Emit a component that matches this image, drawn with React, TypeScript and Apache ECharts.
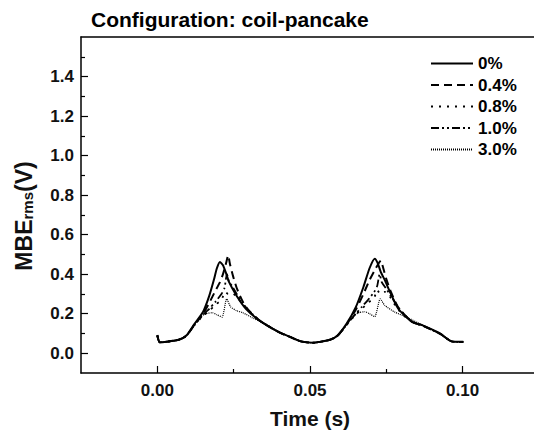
import React, { useEffect, useRef } from "react";
import * as echarts from "echarts";

const titleText = "Configuration: coil-pancake";
const yTitleMain = "MBE";
const yTitleSub = "rms";
const yTitleUnit = "(V)";
const xTitle = "Time (s)";
const seriesNames = ["0%", "0.4%", "0.8%", "1.0%", "3.0%"];
const xMajorTicks = [0, 0.05, 0.1];
const xMinorTicks = [0.025, 0.075];
const yMajorTicks = [0, 0.2, 0.4, 0.6, 0.8, 1.0, 1.2, 1.4];
const yMinorTicks = [0.1, 0.3, 0.5, 0.7, 0.9, 1.1, 1.3, 1.5];

const s0: [number, number][] = [
  [0, 0.092], [0.0008, 0.055], [0.003, 0.058], [0.007, 0.068], [0.0095, 0.09], [0.012, 0.145],
  [0.015, 0.21], [0.017, 0.29], [0.0185, 0.37], [0.0195, 0.43], [0.0205, 0.462], [0.0215, 0.445],
  [0.0225, 0.405], [0.0235, 0.36], [0.026, 0.29], [0.029, 0.225], [0.0335, 0.165], [0.04, 0.105],
  [0.0435, 0.083], [0.047, 0.06], [0.051, 0.053], [0.0565, 0.068], [0.059, 0.09], [0.062, 0.15],
  [0.065, 0.233], [0.0675, 0.335], [0.0695, 0.43], [0.0712, 0.478], [0.0722, 0.455], [0.0732, 0.41],
  [0.0745, 0.37], [0.0762, 0.31], [0.0789, 0.225], [0.0833, 0.16], [0.0871, 0.14], [0.0926, 0.1],
  [0.0964, 0.06], [0.1002, 0.058],
];

const s04: [number, number][] = [
  [0, 0.09], [0.0008, 0.055], [0.003, 0.058], [0.007, 0.068], [0.0095, 0.088], [0.012, 0.14],
  [0.015, 0.2], [0.017, 0.255], [0.019, 0.315], [0.0205, 0.36], [0.0215, 0.4], [0.0225, 0.455],
  [0.0232, 0.495], [0.0238, 0.45], [0.0248, 0.39], [0.026, 0.33], [0.028, 0.26], [0.03, 0.215],
  [0.0335, 0.165], [0.04, 0.105], [0.0435, 0.082], [0.047, 0.06], [0.051, 0.053], [0.0565, 0.068],
  [0.059, 0.088], [0.062, 0.145], [0.065, 0.22], [0.0675, 0.3], [0.0695, 0.37], [0.0712, 0.42],
  [0.0725, 0.455], [0.0732, 0.468], [0.074, 0.43], [0.075, 0.375], [0.0765, 0.31], [0.079, 0.23],
  [0.0833, 0.16], [0.0871, 0.138], [0.0926, 0.098], [0.0964, 0.06], [0.1002, 0.057],
];

const s08: [number, number][] = [
  [0, 0.09], [0.0008, 0.055], [0.003, 0.058], [0.007, 0.068], [0.0095, 0.088], [0.012, 0.14],
  [0.015, 0.19], [0.017, 0.215], [0.019, 0.245], [0.021, 0.27], [0.0222, 0.31], [0.0232, 0.3],
  [0.0245, 0.305], [0.026, 0.285], [0.028, 0.25], [0.03, 0.215], [0.0335, 0.165], [0.04, 0.105],
  [0.0435, 0.082], [0.047, 0.06], [0.051, 0.053], [0.0565, 0.068], [0.059, 0.088], [0.062, 0.145],
  [0.065, 0.195], [0.067, 0.225], [0.069, 0.255], [0.071, 0.28], [0.072, 0.32], [0.073, 0.3],
  [0.0745, 0.31], [0.076, 0.29], [0.078, 0.24], [0.08, 0.2], [0.0833, 0.16], [0.0871, 0.138],
  [0.0926, 0.098], [0.0964, 0.06], [0.1002, 0.057],
];

const s10: [number, number][] = [
  [0, 0.09], [0.0008, 0.055], [0.003, 0.058], [0.007, 0.068], [0.0095, 0.088], [0.012, 0.14],
  [0.015, 0.195], [0.017, 0.225], [0.019, 0.26], [0.021, 0.3], [0.022, 0.33], [0.0228, 0.4],
  [0.0235, 0.36], [0.0245, 0.34], [0.026, 0.3], [0.028, 0.25], [0.03, 0.215], [0.0335, 0.165],
  [0.04, 0.105], [0.0435, 0.082], [0.047, 0.06], [0.051, 0.053], [0.0565, 0.068], [0.059, 0.088],
  [0.062, 0.145], [0.065, 0.2], [0.067, 0.235], [0.069, 0.27], [0.071, 0.31], [0.072, 0.34],
  [0.0728, 0.4], [0.0735, 0.36], [0.0748, 0.33], [0.0765, 0.29], [0.079, 0.23], [0.0833, 0.16],
  [0.0871, 0.138], [0.0926, 0.098], [0.0964, 0.06], [0.1002, 0.057],
];

const s30: [number, number][] = [
  [0, 0.09], [0.0008, 0.055], [0.003, 0.058], [0.007, 0.068], [0.0095, 0.088], [0.012, 0.14],
  [0.014, 0.185], [0.016, 0.2], [0.018, 0.205], [0.0195, 0.195], [0.0212, 0.183], [0.0227, 0.275],
  [0.024, 0.235], [0.026, 0.215], [0.028, 0.205], [0.031, 0.18], [0.0335, 0.162], [0.04, 0.105],
  [0.0435, 0.082], [0.047, 0.06], [0.051, 0.053], [0.0565, 0.068], [0.059, 0.088], [0.062, 0.145],
  [0.064, 0.185], [0.066, 0.205], [0.068, 0.21], [0.0695, 0.2], [0.0712, 0.185], [0.073, 0.275],
  [0.0745, 0.242], [0.0778, 0.208], [0.0816, 0.183], [0.0871, 0.14], [0.0926, 0.098],
  [0.0964, 0.06], [0.1002, 0.057],
];

const seriesData = [s0, s04, s08, s10, s30];
const dashes: any[] = ["solid", [8, 5], [2, 6], [8, 3, 2, 3, 2, 3], [1, 1]];
const widths = [2, 2, 1.8, 1.8, 1.2];

const FONT = "Liberation Sans, Arial, sans-serif";

export default function App() {
  const ref = useRef<HTMLDivElement>(null);
  useEffect(() => {
    if (!ref.current) return;
    const chart = echarts.init(ref.current, undefined, { renderer: "svg" });
    const axisLine = { show: true, onZero: false, lineStyle: { color: "#000", width: 1.5 } };
    const noLine = { show: false, onZero: false };
    const xCommon = { type: "value", min: -0.025, max: 0.125, gridIndex: 0, splitLine: { show: false } };
    const yCommon = { type: "value", min: -0.1, max: 1.6, gridIndex: 0, splitLine: { show: false } };
    chart.setOption({
      animation: false,
      backgroundColor: "#fff",
      textStyle: { fontFamily: FONT },
      title: {
        text: titleText,
        left: 91,
        top: 9,
        padding: 0,
        textStyle: { fontFamily: FONT, fontWeight: "bold", fontSize: 21, color: "#000" },
      },
      legend: {
        orient: "vertical",
        left: 430,
        top: 55,
        itemWidth: 42,
        itemHeight: 12,
        itemGap: 4.5,
        padding: 0,
        data: seriesNames,
        itemStyle: { opacity: 0 },
        textStyle: { fontFamily: FONT, fontWeight: "bold", fontSize: 17, color: "#000", lineHeight: 16 },
      },
      graphic: [
        {
          type: "text",
          x: 22,
          y: 216,
          rotation: Math.PI / 2,
          style: {
            text: `{a|${yTitleMain}}{b|${yTitleSub}}{a|${yTitleUnit}}`,
            align: "center",
            verticalAlign: "middle",
            rich: {
              a: { fontFamily: FONT, fontWeight: "bold", fontSize: 23, fill: "#111", lineHeight: 26, verticalAlign: "bottom" },
              b: { fontFamily: FONT, fontWeight: "bold", fontSize: 15, fill: "#111", lineHeight: 26, verticalAlign: "bottom", padding: [7, 0, 0, 0] },
            },
          },
        },
      ],
      grid: { left: 81, top: 37, right: 1, bottom: 57, containLabel: false },
      xAxis: [
        {
          ...xCommon,
          position: "bottom",
          axisLine,
          axisTick: { show: true, inside: true, length: 7, customValues: xMajorTicks, lineStyle: { color: "#000", width: 1.2 } },
          axisLabel: {
            show: true,
            customValues: xMajorTicks,
            formatter: (v: number) => v.toFixed(2),
            fontFamily: FONT,
            fontWeight: "bold",
            fontSize: 17,
            color: "#111",
            margin: 9,
          },
          name: xTitle,
          nameLocation: "middle",
          nameGap: 35,
          nameTextStyle: { fontFamily: FONT, fontWeight: "bold", fontSize: 21, color: "#111" },
        },
        {
          ...xCommon,
          position: "bottom",
          axisLine: noLine,
          axisTick: { show: true, inside: true, length: 4, customValues: xMinorTicks, lineStyle: { color: "#000", width: 1.2 } },
          axisLabel: { show: false },
        },
        {
          ...xCommon,
          position: "top",
          axisLine,
          axisTick: { show: false },
          axisLabel: { show: false },
        },
      ],
      yAxis: [
        {
          ...yCommon,
          position: "left",
          axisLine,
          axisTick: { show: true, inside: true, length: 7, customValues: yMajorTicks, lineStyle: { color: "#000", width: 1.2 } },
          axisLabel: {
            show: true,
            customValues: yMajorTicks,
            formatter: (v: number) => v.toFixed(1),
            fontFamily: FONT,
            fontWeight: "bold",
            fontSize: 17,
            color: "#111",
            margin: 7,
          },
        },
        {
          ...yCommon,
          position: "left",
          axisLine: noLine,
          axisTick: { show: true, inside: true, length: 4, customValues: yMinorTicks, lineStyle: { color: "#000", width: 1.2 } },
          axisLabel: { show: false },
        },
      ],
      series: seriesData.map((d, i) => ({
        name: seriesNames[i],
        type: "line",
        xAxisIndex: 0,
        yAxisIndex: 0,
        data: d,
        symbol: "none",
        showSymbol: false,
        smooth: 0.2,
        lineStyle: { color: "#000", width: widths[i], type: dashes[i] },
        itemStyle: { color: "#000" },
      })),
    });
    return () => chart.dispose();
  }, []);
  return (
    <div style={{ position: "fixed", left: 0, top: 0, width: 534, height: 434, overflow: "hidden", background: "#fff" }}>
      <div ref={ref} style={{ width: 540, height: 434 }} />
    </div>
  );
}
